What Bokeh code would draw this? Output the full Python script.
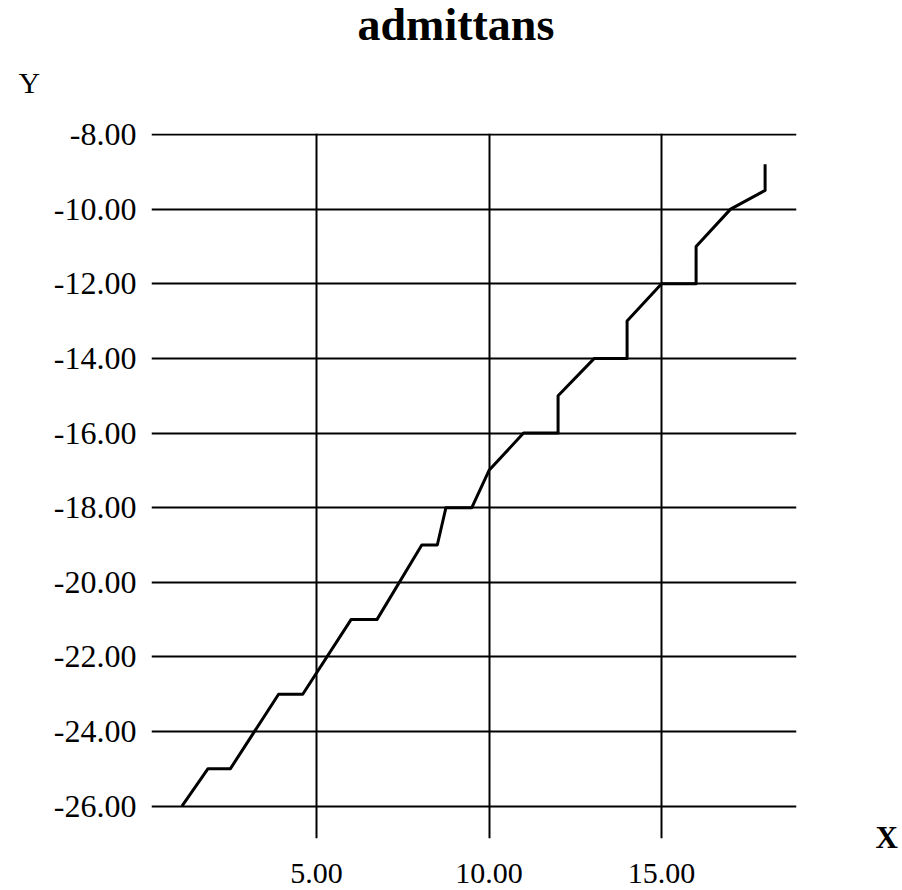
from bokeh.plotting import figure
from bokeh.models import (FixedTicker, PrintfTickFormatter, Range1d, Title,
                          LinearAxis, CustomJSTickFormatter)
from bokeh.embed import file_html
from bokeh.resources import INLINE

# ---- data ----
x_vals = [1.1, 1.85, 2.5, 3.9, 4.6, 6.0, 6.75, 8.05, 8.5, 8.75, 9.5, 10.0,
          11.0, 12.0, 12.0, 13.05, 14.0, 14.0, 15.0, 16.0, 16.0, 17.0, 18.0, 18.0]
y_vals = [-26, -25, -25, -23, -23, -21, -21, -19, -19, -18, -18, -17,
          -16, -16, -15, -14, -14, -13, -12, -12, -11, -10, -9.5, -8.8]
x_ticks = [5, 10, 15]
y_ticks = [-8, -10, -12, -14, -16, -18, -20, -22, -24, -26]
title_text = "admittans"
x_label = "X"
y_label = "Y"

SERIF = "Liberation Serif"

# ---- layout (pixels) ----
FRAME_L, FRAME_R, FRAME_T, FRAME_B = 151, 796, 133, 838
X0, X1 = 0.217, 18.91          # x range shown by the frame
Y0, Y1 = -26.866, -7.973       # y range shown by the frame (bottom, top)
X_NAME_Y = -26.837             # vertical place of the "X" name, in y units

p = figure(
    output_backend="svg", toolbar_location=None,
    frame_width=FRAME_R - FRAME_L, frame_height=FRAME_B - FRAME_T,
    x_range=Range1d(X0, X1), y_range=Range1d(Y0, Y1),
    min_border_left=FRAME_L, min_border_right=902 - FRAME_R,
    min_border_top=FRAME_T, min_border_bottom=890 - FRAME_B,
    background_fill_color="white", border_fill_color="white",
    title=title_text,
)
p.outline_line_color = None

# "Y" name: a title next to the frame, shifted to the left corner
y_title = Title(text=y_label, align="left", offset=-133, standoff=69,
                text_font=SERIF, text_font_style="normal", text_font_size="30px",
                text_color="black", vertical_align="bottom")
p.add_layout(y_title, "above")

# main title (outermost)
p.title.text_font = SERIF
p.title.text_font_style = "bold"
p.title.text_font_size = "46px"
p.title.text_color = "black"
p.title.align = "left"
p.title.offset = 206
p.title.standoff = -40
p.title.vertical_align = "bottom"

# grid
p.xgrid.ticker = FixedTicker(ticks=x_ticks)
p.ygrid.ticker = FixedTicker(ticks=y_ticks)
for g in (p.xgrid, p.ygrid):
    g.grid_line_color = "black"
    g.grid_line_width = 2
    g.grid_line_alpha = 1.0

# x axis
xa = p.xaxis[0]
xa.ticker = FixedTicker(ticks=x_ticks)
xa.formatter = PrintfTickFormatter(format="%.2f")
xa.axis_line_color = None
xa.major_tick_line_color = None
xa.minor_tick_line_color = None
xa.major_label_standoff = 19
xa.major_label_text_font = SERIF
xa.major_label_text_font_size = "30px"
xa.major_label_text_color = "black"

# y axis
ya = p.yaxis[0]
ya.ticker = FixedTicker(ticks=y_ticks)
ya.formatter = PrintfTickFormatter(format="%.2f")
ya.axis_line_color = None
ya.major_tick_line_color = None
ya.minor_tick_line_color = None
ya.major_label_standoff = 9
ya.major_label_text_font = SERIF
ya.major_label_text_font_size = "32px"
ya.major_label_text_color = "black"

# "X" name at the lower right, as a right-hand axis label
xname = LinearAxis(ticker=FixedTicker(ticks=[X_NAME_Y]),
                   formatter=CustomJSTickFormatter(code="return %r" % x_label))
xname.axis_line_color = None
xname.major_tick_line_color = None
xname.minor_tick_line_color = None
xname.major_label_standoff = 73
xname.major_label_text_font = SERIF
xname.major_label_text_font_style = "bold"
xname.major_label_text_font_size = "31px"
xname.major_label_text_color = "black"
p.add_layout(xname, "right")

# data line
p.line(x_vals, y_vals, line_color="black", line_width=3, line_join="round")

open("out.html", "w").write(file_html(p, INLINE))
